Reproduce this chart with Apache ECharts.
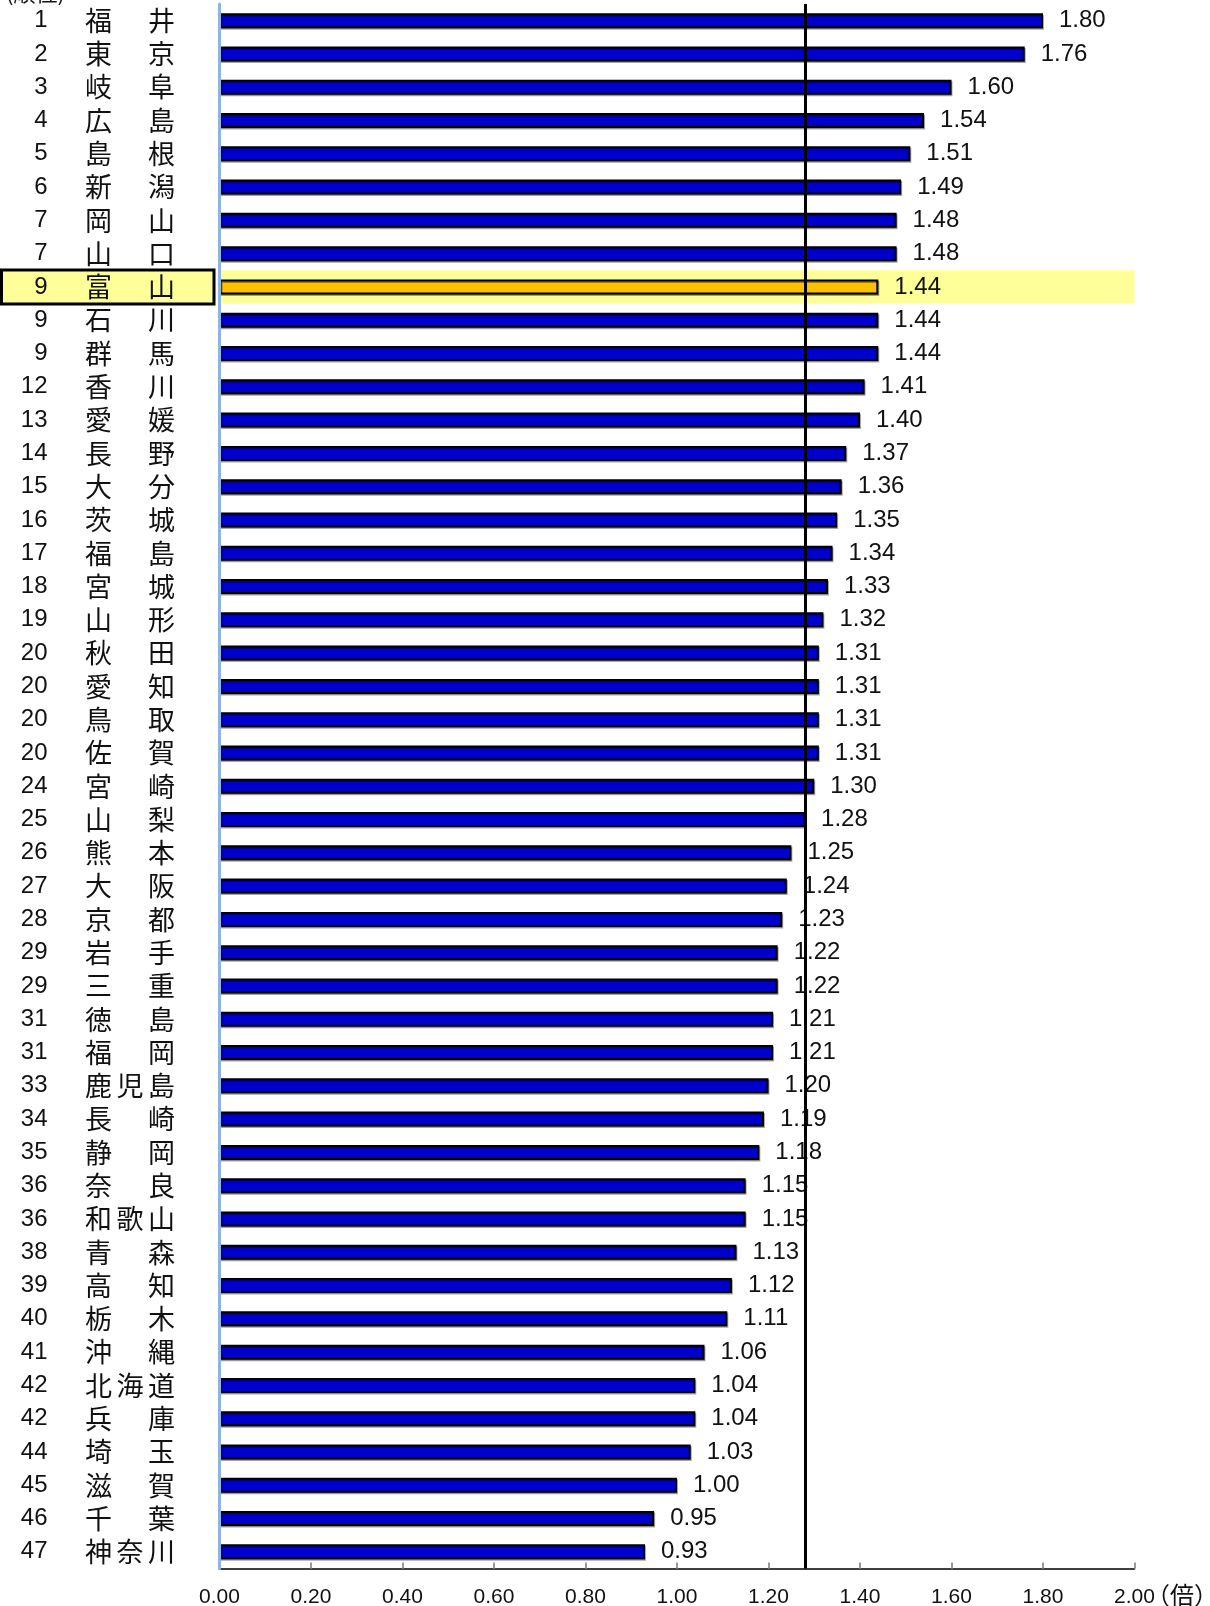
<!DOCTYPE html>
<html><head><meta charset="utf-8">
<script src="https://cdn.jsdelivr.net/npm/echarts@6/dist/echarts.min.js"></script>
<style>html,body{margin:0;padding:0;background:#fff}#c{width:1210px;height:1606px}</style>
</head><body><div id="c"></div>
<script>
const ranks = [1,2,3,4,5,6,7,7,9,9,9,12,13,14,15,16,17,18,19,20,20,20,20,24,25,26,27,28,29,29,31,31,33,34,35,36,36,38,39,40,41,42,42,44,45,46,47];
const prefectures = ['福井','東京','岐阜','広島','島根','新潟','岡山','山口','富山','石川','群馬','香川','愛媛','長野','大分','茨城','福島','宮城','山形','秋田','愛知','鳥取','佐賀','宮崎','山梨','熊本','大阪','京都','岩手','三重','徳島','福岡','鹿児島','長崎','静岡','奈良','和歌山','青森','高知','栃木','沖縄','北海道','兵庫','埼玉','滋賀','千葉','神奈川'];
const values = [1.80,1.76,1.60,1.54,1.51,1.49,1.48,1.48,1.44,1.44,1.44,1.41,1.40,1.37,1.36,1.35,1.34,1.33,1.32,1.31,1.31,1.31,1.31,1.30,1.28,1.25,1.24,1.23,1.22,1.22,1.21,1.21,1.20,1.19,1.18,1.15,1.15,1.13,1.12,1.11,1.06,1.04,1.04,1.03,1.00,0.95,0.93];
const xTicks = [0,0.2,0.4,0.6,0.8,1.0,1.2,1.4,1.6,1.8,2.0];
const nationalAverage = 1.28;
const highlightName = '富山';
const unitLabel = '（倍）';

const xMax = xTicks[xTicks.length-1];
const FONT_NUM = '"Liberation Sans", Arial, sans-serif';
const FONT_JP = '"Noto Sans CJK JP", sans-serif';

function nameText(name) {
  const chars = name.split('');
  const cells = chars.length === 2 ? [chars[0], '　', chars[1]] : chars;
  return '{g| }' + cells.map(c => '{c|' + c + '}').join('') + '{t| }';
}

const yData = prefectures.map(p => p === highlightName ? {
  value: p,
  textStyle: { backgroundColor: '#FFFF99', borderColor: '#000', borderWidth: 3, padding: [0,0,0,0] }
} : p);

const mainData = values.map((v, i) => prefectures[i] === highlightName ? {
  value: v, itemStyle: { color: '#FFC000' }
} : v);

const bandData = prefectures.map(p => p === highlightName ? xMax : '-');

const chart = echarts.init(document.getElementById('c'), null, {renderer: 'canvas'});
chart.setOption({
  animation: false,
  backgroundColor: '#fff',
  grid: { left: 219.5, right: 75.5, top: 4, bottom: 37.5, containLabel: false, outerBoundsMode: 'none' },
  xAxis: {
    type: 'value', min: 0, max: xMax, interval: 0.2,
    axisLine: { show: true, lineStyle: { color: '#000', width: 1.5 } },
    axisTick: { show: true, inside: true, length: 6, lineStyle: { color: '#999', width: 2 } },
    splitLine: { show: false },
    axisLabel: { margin: 18, fontSize: 21, color: '#111', fontFamily: FONT_NUM, formatter: v => v.toFixed(2) }
  },
  yAxis: [{
    type: 'category', inverse: true, data: yData, z: 5, position: 'left',
    axisLine: { show: true, onZero: false, lineStyle: { color: '#8DB4E2', width: 3 } },
    axisTick: { show: false },
    axisLabel: {
      margin: 7, align: 'right', interval: 0, color: '#111',
      formatter: v => nameText(v),
      rich: {
        g: { width: 82, align: 'left', fontSize: 10, lineHeight: 31 },
        c: { width: 31.5, align: 'left', fontSize: 27, fontFamily: FONT_JP, color: '#111', lineHeight: 31 },
        t: { width: 33, align: 'left', fontSize: 10, lineHeight: 31 }
      }
    }
  }, {
    type: 'category', inverse: true, data: prefectures, z: 6, position: 'left', offset: 0,
    axisLine: { show: false }, axisTick: { show: false }, splitLine: { show: false },
    axisLabel: {
      margin: 172, align: 'right', interval: 0, fontSize: 24, fontFamily: FONT_NUM, color: '#111',
      formatter: (v, i) => String(ranks[i])
    }
  }],
  series: [{
    type: 'bar', yAxisIndex: 1, data: bandData, barWidth: '100%', silent: true, z: 1,
    itemStyle: { color: '#FFFF99' }
  }, {
    type: 'bar', yAxisIndex: 0, data: mainData, barWidth: 15, z: 3,
    itemStyle: { color: '#0000CC', borderColor: '#000', borderWidth: 2, shadowColor: 'rgba(0,0,0,0.35)', shadowOffsetX: 1, shadowOffsetY: 1.5 },
    label: { show: true, position: 'right', distance: 16, fontSize: 24, color: '#111', fontFamily: FONT_NUM, formatter: p => Number(p.value).toFixed(2) },
    markLine: {
      silent: true, symbol: 'none', animation: false,
      label: { show: false },
      lineStyle: { color: '#000', width: 3, type: 'solid' },
      data: [{ xAxis: nationalAverage }]
    }
  }],
  graphic: [{
    type: 'text', left: 1146, top: 1583,
    style: { text: unitLabel, fontSize: 24, fontFamily: FONT_JP, fill: '#111' }
  }, {
    type: 'text', left: 6, top: -18,
    style: { text: '(順位)', fontSize: 22, fontFamily: FONT_JP, fill: '#111' }
  }]
});
</script></body></html>
